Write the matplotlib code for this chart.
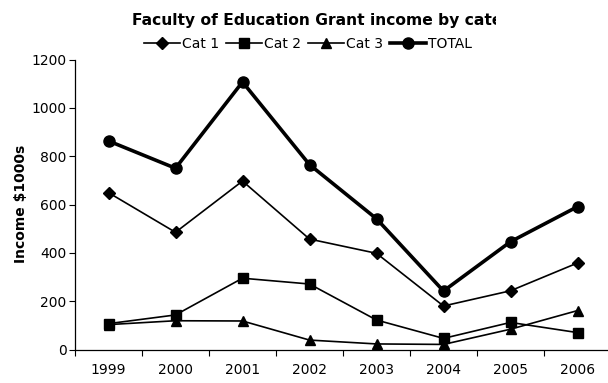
import matplotlib
matplotlib.use("Agg")
import matplotlib.pyplot as plt
from matplotlib.patches import Rectangle

# Grant income (in $1000s) by category, 1999-2006
years = ["1999", "2000", "2001", "2002", "2003", "2004", "2005", "2006"]
cat1 = [649, 485, 697, 457, 398, 180, 243, 358]
cat2 = [107, 143, 295, 271, 122, 46, 112, 70]
cat3 = [103, 119, 118, 39, 23, 21, 84, 161]
total = [863, 750, 1107, 765, 541, 242, 446, 591]

title = "Faculty of Education Grant income by category"
y_ticks = [0, 200, 400, 600, 800, 1000, 1200]

W, H = 608, 383
fig = plt.figure(figsize=(W / 100, H / 100), dpi=100)
plt.rcParams["font.family"] = ["DejaVu Sans"]

# axes rectangle in pixel units (the plot area runs slightly past the right edge)
ax_l, ax_r, ax_b, ax_t = 75, 611, 349.5, 59.5
ax = fig.add_axes([ax_l / W, (H - ax_b) / H, (ax_r - ax_l) / W, (ax_b - ax_t) / H])

x = list(range(len(years)))
ax.plot(x, cat1, color="black", lw=1.2, marker="D", ms=6.3, label="Cat 1", clip_on=False)
ax.plot(x, cat2, color="black", lw=1.2, marker="s", ms=7, label="Cat 2", clip_on=False)
ax.plot(x, cat3, color="black", lw=1.2, marker="^", ms=7, label="Cat 3", clip_on=False)
ax.plot(x, total, color="black", lw=2.6, marker="o", ms=8, label="TOTAL", clip_on=False)

ax.set_xlim(-0.5, len(years) - 0.5)
ax.set_ylim(0, 1200)
ax.set_yticks(y_ticks)
ax.set_yticklabels([str(v) for v in y_ticks], fontsize=10)
ax.set_xticks(x)
ax.set_xticklabels(years, fontsize=10)
ax.set_xticks([i - 0.5 for i in range(len(years) + 1)], minor=True)
ax.tick_params(axis="x", which="major", length=0, pad=10)
ax.tick_params(axis="x", which="minor", length=4, width=0.8, direction="out")
ax.tick_params(axis="y", length=4, width=0.8, direction="out", pad=2)

for side in ("top", "right"):
    ax.spines[side].set_visible(False)
for side in ("left", "bottom"):
    ax.spines[side].set_linewidth(0.9)

fig.text(21 / W, 1 - 204 / H, "Income \\$1000s", rotation=90, fontsize=10,
         fontweight="bold", ha="center", va="center")

# title box is narrower than its text, so the end of the title is cut off
fig.text(132 / W, 1 - 21 / H, title, fontsize=11.2, fontweight="bold",
         ha="left", va="center", zorder=3)
fig.patches.append(Rectangle((496 / W, 1 - 34 / H), (W - 496) / W, 26 / H,
                             transform=fig.transFigure, facecolor="white",
                             edgecolor="none", zorder=10))

fig.legend(loc="center", bbox_to_anchor=(308 / W, 1 - 44 / H), ncol=4,
           frameon=False, fontsize=10, handlelength=2.6, handletextpad=0.15,
           columnspacing=0.5, borderpad=0, borderaxespad=0)

fig.savefig("out.png", dpi=100)
